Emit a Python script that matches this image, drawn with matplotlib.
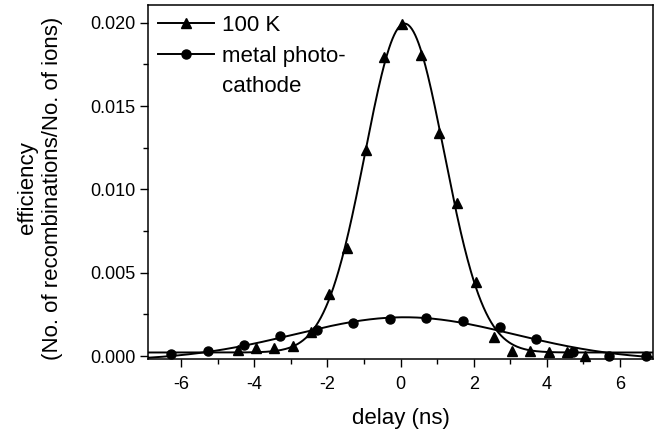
import numpy as np
import matplotlib
matplotlib.use("Agg")
import matplotlib.pyplot as plt
from matplotlib.lines import Line2D
from matplotlib.ticker import MultipleLocator, FormatStrFormatter

# ---- data ----
delay_100K = [-4.45, -3.95, -3.45, -2.95, -2.45, -1.95, -1.45, -0.95, -0.45, 0.05,
              0.55, 1.05, 1.55, 2.05, 2.55, 3.05, 3.55, 4.05, 4.55, 5.05]
eff_100K = [0.00036, 0.00050, 0.00050, 0.00060, 0.00146, 0.00372, 0.00650, 0.01236,
            0.01797, 0.01993, 0.01807, 0.01337, 0.00917, 0.00442, 0.00116, 0.00032,
            0.00032, 0.00026, 0.00026, 0.00000]

delay_metal = [-6.28, -5.27, -4.28, -3.28, -2.28, -1.29, -0.29, 0.71, 1.71, 2.71,
               3.71, 4.71, 5.71, 6.71]
eff_metal = [0.00010, 0.00030, 0.00066, 0.00118, 0.00156, 0.00196, 0.00220, 0.00228,
             0.00210, 0.00172, 0.00100, 0.00026, 0.00002, 0.00002]

label_100K = "100 K"
label_metal = "metal photo-"
label_metal2 = "cathode"
xlabel = "delay (ns)"
ylabel = "efficiency\n(No. of recombinations/No. of ions)"


def gauss(p, x):
    a, mu, s, c = p
    return c + a * np.exp(-0.5 * ((x - mu) / s) ** 2)


def fit_gauss(x, y):
    """Levenberg-Marquardt fit of a Gaussian with offset to the data."""
    x = np.asarray(x, float)
    y = np.asarray(y, float)
    i = int(np.argmax(y))
    p = np.array([y.max() - y.min(), x[i], (x.max() - x.min()) / 6, y.min()])
    lam = 1e-3
    for _ in range(500):
        a, mu, s, c = p
        e = np.exp(-0.5 * ((x - mu) / s) ** 2)
        r = y - gauss(p, x)
        J = np.column_stack([e, a * e * (x - mu) / s ** 2,
                             a * e * (x - mu) ** 2 / s ** 3, np.ones_like(x)])
        A = J.T @ J
        g = J.T @ r
        dp = np.linalg.solve(A + lam * np.diag(np.diag(A)), g)
        pn = p + dp
        if np.sum((y - gauss(pn, x)) ** 2) < np.sum(r ** 2):
            p = pn
            lam *= 0.3
        else:
            lam *= 5
    return p


plt.rcParams["font.family"] = ["Liberation Sans", "DejaVu Sans"]
plt.rcParams["axes.unicode_minus"] = False

fig = plt.figure(figsize=(6.62, 4.32), dpi=100)
ax = fig.add_axes([148 / 662, 1 - 359 / 432, (653 - 148) / 662, (359 - 5) / 432])

xmin, xmax = -6.9, 6.9
xx = np.linspace(xmin, xmax, 600)

p1 = fit_gauss(delay_100K, eff_100K)
p2 = fit_gauss(delay_metal, eff_metal)

ax.plot(xx, gauss(p1, xx), color="black", lw=1.4, zorder=2)
ax.plot(xx, gauss(p2, xx), color="black", lw=1.4, zorder=2)
ax.plot(delay_100K, eff_100K, linestyle="none", marker="^", ms=7.5,
        color="black", zorder=3, clip_on=False)
ax.plot(delay_metal, eff_metal, linestyle="none", marker="o", ms=6.5,
        color="black", zorder=3, clip_on=False)

ax.set_xlim(xmin, xmax)
ax.set_ylim(-0.00018, 0.02107)

ax.xaxis.set_major_locator(MultipleLocator(2))
ax.xaxis.set_minor_locator(MultipleLocator(1))
ax.yaxis.set_major_locator(MultipleLocator(0.005))
ax.yaxis.set_minor_locator(MultipleLocator(0.0025))
ax.yaxis.set_major_formatter(FormatStrFormatter("%.3f"))

ax.tick_params(which="major", direction="out", length=6, width=1.0,
               labelsize=13, colors="black")
ax.tick_params(which="minor", direction="out", length=3.5, width=1.0)
ax.tick_params(axis="x", which="major", pad=6)
ax.tick_params(axis="y", which="major", pad=3)

for sp in ax.spines.values():
    sp.set_linewidth(1.1)

ax.set_xlabel(xlabel, fontsize=16)
ax.xaxis.set_label_coords(0.5, (359 - 408) / 354)
ax.set_ylabel(ylabel, fontsize=16, linespacing=1.2)
ax.yaxis.set_label_coords((40 - 148) / 505, (359 - 188) / 354)
ax.yaxis.label.set_verticalalignment("center")

h1 = Line2D([], [], color="black", lw=1.4, marker="^", ms=7.5)
h2 = Line2D([], [], color="black", lw=1.4, marker="o", ms=6.5)
h3 = Line2D([], [], linestyle="none", marker="none")
leg = ax.legend([h1, h2, h3], [label_100K, label_metal, label_metal2],
                loc="upper left", frameon=False, fontsize=16,
                handlelength=2.5, handletextpad=0.4, labelspacing=0.43,
                borderaxespad=0.3, borderpad=0.15)

fig.savefig("out.png", dpi=100)
